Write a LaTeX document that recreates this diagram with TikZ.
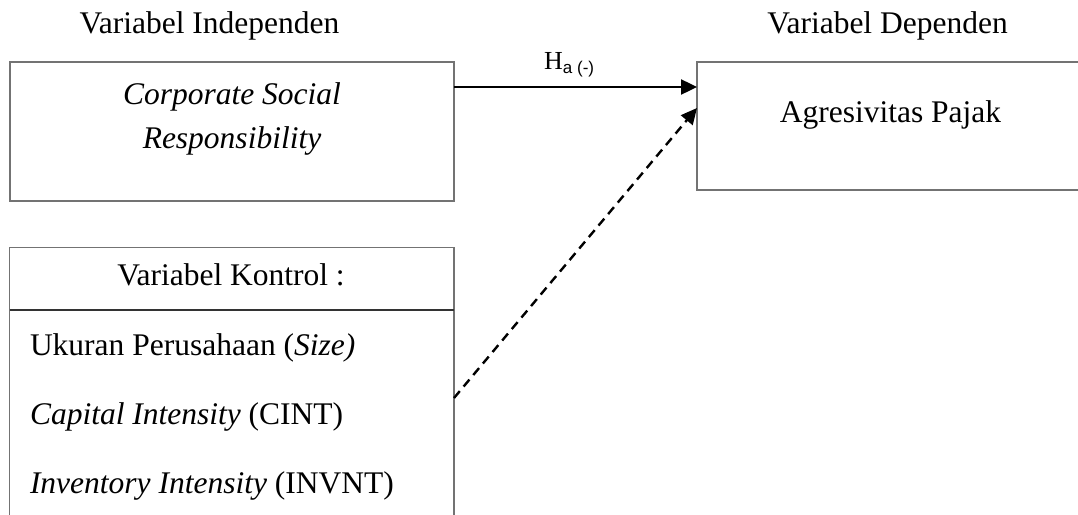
\documentclass[tikz,border=0pt]{standalone}
\usepackage{fontspec}
\setmainfont{Liberation Serif}
\newfontfamily\labsans{Liberation Sans}
\usetikzlibrary{arrows.meta}
\tikzset{
  boxframe/.style={draw=black!55, line width=1.1pt, inner sep=0pt, outer sep=0pt, anchor=north west},
  txt/.style={font=\fontsize{31.5}{38}\selectfont, inner sep=0pt, outer sep=0pt, anchor=base},
  txtl/.style={txt, anchor=base west},
  conn/.style={line width=2.4pt, -{Triangle[length=16pt,width=15pt]}},
}
\begin{document}
\begin{tikzpicture}[x=1pt,y=-1pt]
\useasboundingbox (0,0) rectangle (1078,514);
\clip (0,0) rectangle (1078,514);
% boxes
\node[boxframe, minimum width=444pt, minimum height=139pt] (ind) at (10,62) {};
\node[boxframe, minimum width=420pt, minimum height=128pt] (dep) at (697,62) {};
\node[boxframe, minimum width=444.5pt, minimum height=300pt] (ctrl) at (9.5,247.3) {};
\coordinate (divy) at (0,310);
\draw[black!80, line width=1.1pt] (ctrl.west |- divy) -- (ctrl.east |- divy);
% titles
\node[txt] (tind) at (209.5,33) {Variabel Independen};
\node[txt] (tdep) at (887.5,33) {Variabel Dependen};
% box texts
\node[txt] (csr1) at (232,104) {\itshape Corporate Social};
\node[txt] (csr2) at (232,148) {\itshape Responsibility};
\node[txt] (agr) at (890.5,122) {Agresivitas Pajak};
\node[txt] (kon) at (231,285) {Variabel Kontrol :};
\node[txtl] (k1) at (30,355) {Ukuran Perusahaan (\textit{Size)}};
\node[txtl] (k2) at (30,424) {\textit{Capital Intensity} (CINT)};
\node[txtl] (k3) at (30,493) {\textit{Inventory Intensity} (INVNT)};
% connectors
\coordinate (hy) at (0,87);
\coordinate (dy1) at (0,398);
\coordinate (dy2) at (0,108);
\draw[conn] (ind.east |- hy) -- (dep.west |- hy);
\draw[conn, dash pattern=on 9pt off 6pt] (ctrl.east |- dy1) -- (dep.west |- dy2);
% label
\node[inner sep=0pt, anchor=base west] (ha) at (544,69.5) {\fontsize{26}{28}\selectfont H\raisebox{-4pt}{\labsans\fontsize{17}{19}\selectfont a (-)}};
\end{tikzpicture}
\end{document}
